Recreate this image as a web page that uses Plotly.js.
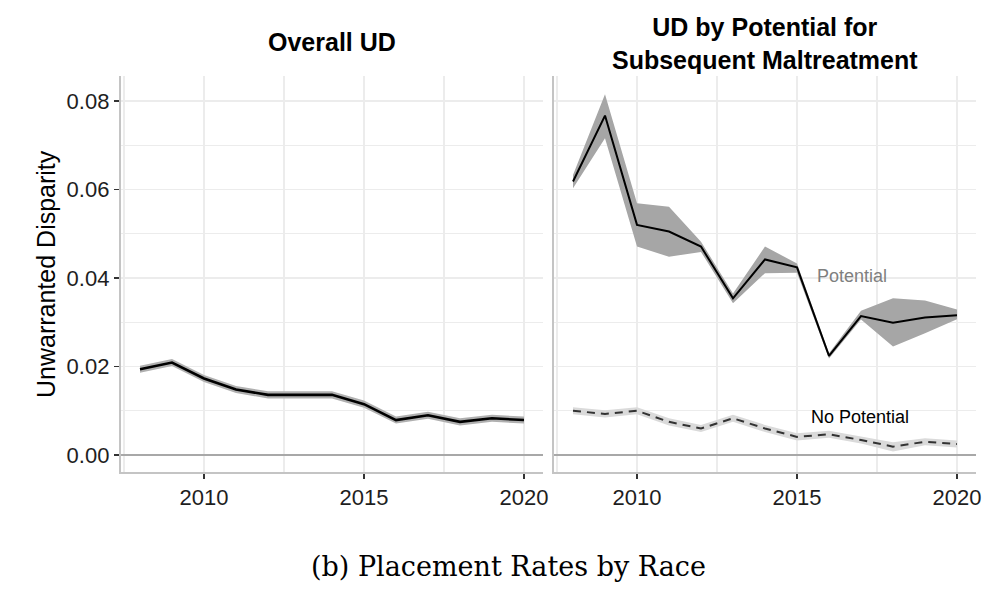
<!DOCTYPE html>
<html>
<head>
<meta charset="utf-8">
<script src="https://cdn.plot.ly/plotly-3.0.1.min.js"></script>
<style>html,body{margin:0;padding:0;background:#fff;}#chart{width:1000px;height:589px;}</style>
</head>
<body>
<div id="chart"></div>
<script>
const years = [2008,2009,2010,2011,2012,2013,2014,2015,2016,2017,2018,2019,2020];

const overall   = [0.0194,0.0209,0.0173,0.0148,0.0136,0.0136,0.0136,0.0115,0.0079,0.0090,0.0075,0.0083,0.0079];
const overallLo = [0.0186,0.0201,0.0165,0.0140,0.0128,0.0128,0.0128,0.0107,0.0071,0.0082,0.0067,0.0075,0.0071];
const overallHi = [0.0202,0.0217,0.0181,0.0156,0.0144,0.0144,0.0144,0.0123,0.0087,0.0098,0.0083,0.0091,0.0087];

const potential   = [0.0618,0.0767,0.0520,0.0505,0.0471,0.0354,0.0442,0.0424,0.0224,0.0314,0.0299,0.0311,0.0316];
const potentialLo = [0.0603,0.0716,0.0471,0.0448,0.0459,0.0343,0.0411,0.0412,0.0218,0.0306,0.0245,0.0275,0.0307];
const potentialHi = [0.0633,0.0815,0.0569,0.0561,0.0482,0.0365,0.0471,0.0433,0.0230,0.0326,0.0354,0.0349,0.0329];

const noPotential   = [0.0100,0.0093,0.0100,0.0075,0.0060,0.0083,0.0060,0.0041,0.0047,0.0034,0.0019,0.0030,0.0025];
const noPotentialLo = [0.0092,0.0085,0.0092,0.0067,0.0052,0.0075,0.0052,0.0033,0.0039,0.0026,0.0008,0.0022,0.0017];
const noPotentialHi = [0.0108,0.0101,0.0108,0.0083,0.0068,0.0091,0.0068,0.0049,0.0055,0.0042,0.0029,0.0038,0.0033];

const yTicks = [0, 0.02, 0.04, 0.06, 0.08];
const yTickText = ["0.00", "0.02", "0.04", "0.06", "0.08"];
const xTicks = [2010, 2015, 2020];
const xTickText = ["2010", "2015", "2020"];

const panelTitles = ["Overall UD", "UD by Potential for<br>Subsequent Maltreatment"];
const seriesLabels = ["Potential", "No Potential"];
const yTitle = "Unwarranted Disparity";
const caption = "(b) Placement Rates by Race";

function band(x, lo, hi, color, xa, ya) {
  return [
    {x: x, y: lo, xaxis: xa, yaxis: ya, type: 'scatter', mode: 'lines',
     line: {width: 0, color: color}, hoverinfo: 'skip', showlegend: false},
    {x: x, y: hi, xaxis: xa, yaxis: ya, type: 'scatter', mode: 'lines',
     line: {width: 0, color: color}, fill: 'tonexty', fillcolor: color,
     hoverinfo: 'skip', showlegend: false}
  ];
}

const traces = [].concat(
  band(years, overallLo, overallHi, '#b0b0b0', 'x', 'y'),
  [{x: years, y: overall, xaxis: 'x', yaxis: 'y', type: 'scatter', mode: 'lines',
    line: {color: '#000000', width: 2.6}, showlegend: false}],
  band(years, noPotentialLo, noPotentialHi, '#dadada', 'x2', 'y2'),
  [{x: years, y: noPotential, xaxis: 'x2', yaxis: 'y2', type: 'scatter', mode: 'lines',
    line: {color: '#333333', width: 2, dash: '8px,6px'}, showlegend: false}],
  band(years, potentialLo, potentialHi, '#a6a6a6', 'x2', 'y2'),
  [{x: years, y: potential, xaxis: 'x2', yaxis: 'y2', type: 'scatter', mode: 'lines',
    line: {color: '#000000', width: 2}, showlegend: false}]
);

const tickFont = {family: 'Liberation Sans, Arial, sans-serif', size: 22, color: '#1e1e1e'};
const gridColor = '#ececec';
const axisLineColor = '#c4c4c4';

function xAxis(domain, anchor) {
  return {
    domain: domain, anchor: anchor, range: [2007.4, 2020.6],
    tickmode: 'array', tickvals: xTicks, ticktext: xTickText,
    ticks: 'outside', ticklen: 5, tickwidth: 1.6, tickcolor: '#333333',
    showline: true, linecolor: axisLineColor, linewidth: 2,
    showgrid: true, gridcolor: gridColor, gridwidth: 1.2,
    minor: {tick0: 2007.5, dtick: 2.5, showgrid: true, gridcolor: gridColor, gridwidth: 1.2, ticks: ''},
    zeroline: false, tickfont: tickFont, fixedrange: true
  };
}
function yAxis(anchor, showLabels) {
  return {
    domain: [0.1986, 0.871], anchor: anchor, range: [-0.00384, 0.08565],
    tickmode: 'array', tickvals: yTicks, ticktext: yTickText,
    showticklabels: showLabels,
    ticks: showLabels ? 'outside' : '', ticklen: 5, tickwidth: 1.6, tickcolor: '#333333',
    showline: true, linecolor: axisLineColor, linewidth: 2,
    showgrid: true, gridcolor: gridColor, gridwidth: 1.2,
    minor: {tick0: 0.01, dtick: 0.02, showgrid: true, gridcolor: gridColor, gridwidth: 1.2, ticks: ''},
    zeroline: true, zerolinecolor: '#a8a8a8', zerolinewidth: 1.6,
    tickfont: tickFont, fixedrange: true
  };
}

const titleFont = {family: 'Liberation Sans, Arial, sans-serif', size: 25, color: '#000000', weight: 'bold'};

const layout = {
  width: 1000, height: 589,
  margin: {l: 0, r: 0, t: 0, b: 0, autoexpand: false},
  paper_bgcolor: '#ffffff', plot_bgcolor: '#ffffff',
  showlegend: false,
  xaxis: xAxis([0.1208, 0.5432], 'y'),
  yaxis: yAxis('x', true),
  xaxis2: xAxis([0.5538, 0.9762], 'y2'),
  yaxis2: yAxis('x2', false),
  annotations: [
    {text: panelTitles[0], xref: 'x domain', yref: 'paper', x: 0.5, y: 1 - 42/589,
     xanchor: 'center', yanchor: 'middle', showarrow: false, font: titleFont},
    {text: panelTitles[1], xref: 'x2 domain', yref: 'paper', x: 0.5, y: 1 - 43/589,
     xanchor: 'center', yanchor: 'middle', showarrow: false, font: titleFont},
    {text: seriesLabels[0], xref: 'x2', yref: 'y2', x: 2015.55, y: 0.0405,
     xanchor: 'left', yanchor: 'middle', showarrow: false,
     font: {family: 'Liberation Sans, Arial, sans-serif', size: 18, color: '#7f7f7f'}},
    {text: seriesLabels[1], xref: 'x2', yref: 'y2', x: 2015.38, y: 0.0087,
     xanchor: 'left', yanchor: 'middle', showarrow: false,
     font: {family: 'Liberation Sans, Arial, sans-serif', size: 18, color: '#000000'}},
    {text: yTitle, xref: 'paper', yref: 'paper', x: 46/1000, y: 1 - 274/589,
     xanchor: 'center', yanchor: 'middle', textangle: -90, showarrow: false,
     font: {family: 'Liberation Sans, Arial, sans-serif', size: 25, color: '#000000'}},
    {text: caption, xref: 'paper', yref: 'paper', x: 508/1000, y: 1 - 566/589,
     xanchor: 'center', yanchor: 'middle', showarrow: false,
     font: {family: 'DejaVu Serif, serif', size: 27, color: '#000000'}}
  ]
};

Plotly.newPlot('chart', traces, layout, {staticPlot: true, displayModeBar: false});
</script>
</body>
</html>
